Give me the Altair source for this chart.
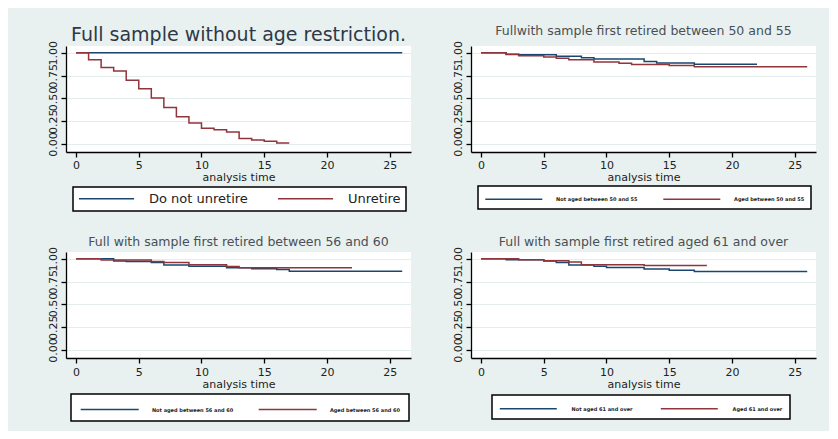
import altair as alt
import pandas as pd

BLUE = "#1a476f"
RED = "#90353b"

# ---- Panel 1: Full sample without age restriction ----
p1_title = "Full sample without age restriction."
p1_names = ["Do not unretire", "Unretire"]
p1_blue_t = [0, 26]
p1_blue_s = [1.0, 1.0]
p1_red_t = [0, 1, 2, 3, 4, 5, 6, 7, 8, 9, 10, 11, 12, 13, 14, 15, 16, 17]
p1_red_s = [1.0, 0.925, 0.84, 0.80, 0.70, 0.605, 0.504, 0.40, 0.30, 0.23,
            0.173, 0.158, 0.132, 0.06, 0.045, 0.03, 0.011, 0.011]

# ---- Panel 2: first retired between 50 and 55 ----
p2_title = "Fullwith sample first retired between 50 and 55"
p2_names = ["Not aged between 50 and 55", "Aged between 50 and 55"]
p2_blue_t = [0, 2, 3, 6, 8, 9, 13, 14, 17, 22]
p2_blue_s = [1.0, 0.985, 0.978, 0.962, 0.945, 0.932, 0.905, 0.89, 0.876, 0.876]
p2_red_t = [0, 2, 3, 5, 6, 7, 9, 11, 12, 15, 17, 26]
p2_red_s = [1.0, 0.982, 0.968, 0.955, 0.94, 0.925, 0.90, 0.885, 0.872, 0.862, 0.848, 0.848]

# ---- Panel 3: first retired between 56 and 60 ----
p3_title = "Full with sample first retired between  56 and 60"
p3_names = ["Not aged between 56 and 60", "Aged between 56 and 60"]
p3_blue_t = [0, 3, 4, 6, 7, 9, 12, 14, 16, 17, 26]
p3_blue_s = [1.0, 0.976, 0.97, 0.96, 0.933, 0.918, 0.903, 0.892, 0.882, 0.864, 0.864]
p3_red_t = [0, 2, 6, 7, 9, 12, 13, 22]
p3_red_s = [1.0, 0.986, 0.97, 0.96, 0.935, 0.917, 0.903, 0.903]

# ---- Panel 4: first retired aged 61 and over ----
p4_title = "Full with  sample first retired aged 61 and over"
p4_names = ["Not aged 61 and over", "Aged 61 and over"]
p4_blue_t = [0, 2, 5, 6, 7, 9, 10, 13, 15, 17, 26]
p4_blue_s = [1.0, 0.989, 0.975, 0.961, 0.933, 0.918, 0.904, 0.89, 0.875, 0.861, 0.861]
p4_red_t = [0, 3, 5, 7, 8, 13, 18]
p4_red_s = [1.0, 0.989, 0.979, 0.965, 0.936, 0.926, 0.926]

x_ticks = [0, 5, 10, 15, 20, 25]
y_ticks = [0, 0.25, 0.5, 0.75, 1.0]

# legend key: a line drawn from the left edge of the symbol box, 10 units long
KEY_PATH = "M-1,0H9"


def make_df(names, bt, bs, rt, rs):
    rows = []
    for t, s in zip(bt, bs):
        rows.append({"t": t, "s": s, "g": names[0], "k": 0})
    for t, s in zip(rt, rs):
        rows.append({"t": t, "s": s, "g": names[1], "k": 1})
    return pd.DataFrame(rows)


def panel(title, names, bt, bs, rt, rs, tsize, toffset, tcolor, leg, lpad):
    df = make_df(names, bt, bs, rt, rs)
    unit = leg["sym"] / 10.0  # px per path unit; symbol box width = 2*unit
    box = 2 * unit
    return (
        alt.Chart(df)
        .mark_line(interpolate="step-after", strokeWidth=1.5)
        .encode(
            x=alt.X(
                "t:Q",
                scale=alt.Scale(domain=[-0.8, 26.7], nice=False, zero=False),
                axis=alt.Axis(values=x_ticks, title="analysis time", grid=False,
                              labelPadding=lpad, titlePadding=1),
            ),
            y=alt.Y(
                "s:Q",
                scale=alt.Scale(domain=[-0.087, 1.075], nice=False, zero=False),
                axis=alt.Axis(values=y_ticks, format=".2f", labelAngle=270,
                              labelAlign="center", labelBaseline="bottom",
                              labelOverlap=False, labelFlush=False,
                              labelPadding=3, title=None, grid=True),
            ),
            color=alt.Color(
                "g:N",
                scale=alt.Scale(domain=names, range=[BLUE, RED]),
                legend=alt.Legend(
                    title=None, orient="none",
                    legendX=leg["x"], legendY=leg["y"],
                    direction="horizontal", columns=2,
                    symbolType=KEY_PATH, symbolSize=box * box,
                    symbolStrokeWidth=1.5,
                    labelFontSize=leg["fs"], labelFont="DejaVu Sans",
                    labelFontWeight=leg["fw"], labelColor="#222222",
                    labelOffset=leg["sym"] + leg["gap"] - box,
                    columnPadding=leg["cp"],
                    padding=leg["pad"], fillColor="white", strokeColor="black",
                    labelLimit=300,
                ),
            ),
            order=alt.Order("t:Q"),
            detail="k:N",
        )
        .properties(
            width=345, height=106,
            title=alt.TitleParams(title, fontSize=tsize, offset=toffset,
                                  font="DejaVu Sans", fontWeight="normal",
                                  color=tcolor, anchor="middle"),
        )
    )


leg1 = {"x": 7, "y": 141, "sym": 55, "gap": 14, "fs": 13, "fw": "normal", "cp": 27, "pad": 5}
leg2 = {"x": 7, "y": 140, "sym": 57, "gap": 13, "fs": 5, "fw": "bold", "cp": 22, "pad": 6.5}
leg3 = {"x": 5, "y": 142, "sym": 58, "gap": 12, "fs": 5, "fw": "bold", "cp": 22, "pad": 8.5}
leg4 = {"x": 21, "y": 143, "sym": 57, "gap": 14, "fs": 5, "fw": "bold", "cp": 24, "pad": 7}

c1 = panel(p1_title, p1_names, p1_blue_t, p1_blue_s, p1_red_t, p1_red_s, 19, -4, "#2e3848", leg1, 2)
c2 = panel(p2_title, p2_names, p2_blue_t, p2_blue_s, p2_red_t, p2_red_s, 12.5, 3, "#4a4f55", leg2, 2)
c3 = panel(p3_title, p3_names, p3_blue_t, p3_blue_s, p3_red_t, p3_red_s, 12.5, -2, "#4a4f55", leg3, 3)
c4 = panel(p4_title, p4_names, p4_blue_t, p4_blue_s, p4_red_t, p4_red_s, 12.5, -2, "#4a4f55", leg4, 3)

chart = (
    alt.concat(c1, c2, c3, c4, columns=2, spacing={"row": 100, "column": 60}, bounds="flush")
    .resolve_scale(color="independent")
    .properties(padding={"left": 38, "top": 17, "right": 13, "bottom": 9})
    .configure(background="#e8f1ef", font="DejaVu Sans")
    .configure_view(fill="white", strokeWidth=0)
    .configure_axis(
        domainColor="black", tickColor="black", domainWidth=1.3, tickWidth=1.3,
        tickSize=5, labelColor="#222222", labelFontSize=11, labelFont="DejaVu Sans",
        titleFont="DejaVu Sans", titleFontWeight="normal", titleFontSize=11,
        titleColor="#222222", gridColor="#e4eded", gridWidth=1,
    )
    .configure_legend(strokeWidth=1.5)
)

chart.save("out.html", embed_options={"renderer": "svg", "actions": False})
